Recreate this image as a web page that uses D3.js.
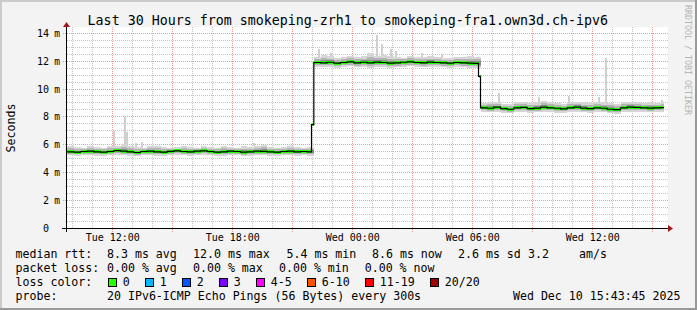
<!DOCTYPE html>
<html>
<head>
<meta charset="utf-8">
<script src="https://cdn.jsdelivr.net/npm/d3@7"></script>
<style>
  html, body { margin: 0; padding: 0; background: #f3f3f3; }
  svg { display: block; font-family: "DejaVu Sans Mono", monospace; }
</style>
</head>
<body>
<svg id="chart" width="697" height="310"></svg>
<script>
// ---- data ----
const title = "Last 30 Hours from smokeping-zrh1 to smokeping-fra1.own3d.ch-ipv6";
const graphStart = "2025-12-09T09:43:45";
const graphEnd = "2025-12-10T15:43:45";
const firstSample = "2025-12-09T09:45:00";
const sampleMinutes = 20;
const lastSampleEnd = "2025-12-10T15:35:00";

// median rtt in ms, one value per 20 min sample
const medianRtt = [
  // zrh1 -> fra1, ~5.5 ms
  5.50, 5.48, 5.52, 5.55, 5.50, 5.47, 5.52, 5.58, 5.55, 5.50,
  5.45, 5.52, 5.55, 5.50, 5.48, 5.53, 5.56, 5.52, 5.50, 5.55,
  5.57, 5.52, 5.48, 5.50, 5.54, 5.52, 5.47, 5.50, 5.55, 5.53,
  5.50, 5.48, 5.52, 5.55, 5.50, 5.52, 5.50,
  // ~11.9 ms during the night
  11.90, 11.88, 11.92, 11.85, 11.90, 11.95, 11.88, 11.92, 11.87, 11.93,
  11.90, 11.85, 11.88, 11.92, 11.95, 11.90, 11.88, 11.93, 11.90, 11.87,
  11.85, 11.90, 11.88, 11.86, 11.84,
  // ~8.65 ms since 06:20
  8.65, 8.62, 8.70, 8.60, 8.55, 8.65, 8.68, 8.60, 8.63, 8.70,
  8.65, 8.62, 8.58, 8.65, 8.70, 8.63, 8.60, 8.65, 8.62, 8.55,
  8.52, 8.65, 8.70, 8.68, 8.65, 8.63, 8.65, 8.66
];
const smokeHigh = [
  5.95, 5.85, 5.80, 5.90, 5.85, 5.80, 5.88, 5.95, 6.05, 5.90,
  5.85, 5.80, 5.90, 5.95, 5.85, 5.80, 5.85, 5.90, 5.85, 5.80,
  5.90, 5.85, 5.80, 5.95, 5.85, 5.80, 5.88, 5.85, 5.90, 6.00,
  5.85, 5.80, 5.85, 5.90, 5.85, 5.80, 5.85,
  12.30, 12.45, 12.35, 12.25, 12.30, 12.40, 12.30, 12.35, 12.55, 12.40,
  12.45, 12.35, 12.30, 12.25, 12.35, 12.30, 12.28, 12.35, 12.30, 12.25,
  12.22, 12.30, 12.28, 12.35, 12.30,
  9.00, 9.10, 9.05, 8.95, 8.95, 9.05, 9.10, 9.00, 9.05, 9.15,
  9.05, 9.00, 8.95, 9.05, 9.10, 9.05, 9.00, 9.10, 9.05, 9.00,
  8.95, 9.05, 9.10, 9.05, 9.00, 9.05, 9.00, 9.10
];
const smokeLow = [
  5.25, 5.22, 5.28, 5.25, 5.22, 5.20, 5.25, 5.28, 5.24, 5.22,
  5.18, 5.25, 5.26, 5.22, 5.20, 5.25, 5.28, 5.25, 5.22, 5.26,
  5.28, 5.24, 5.20, 5.22, 5.25, 5.24, 5.18, 5.22, 5.26, 5.25,
  5.22, 5.20, 5.24, 5.26, 5.22, 5.24, 5.22,
  11.55, 11.58, 11.60, 11.52, 11.58, 11.62, 11.55, 11.60, 11.54, 11.60,
  11.58, 11.52, 11.55, 11.60, 11.62, 11.58, 11.55, 11.60, 11.58, 11.55,
  11.52, 11.58, 11.55, 11.54, 11.50,
  8.35, 8.32, 8.38, 8.30, 8.25, 8.35, 8.38, 8.30, 8.32, 8.38,
  8.35, 8.30, 8.28, 8.35, 8.38, 8.32, 8.30, 8.35, 8.32, 8.25,
  8.22, 8.35, 8.38, 8.36, 8.35, 8.32, 8.35, 8.36
];

// short samples caught in the middle of a route change
const jumpTimes = ["2025-12-09T21:58:00", "2025-12-10T06:19:00"];
const jumpValues = [7.45, 10.9];

// single pings far above the smoke
const spikeTimes = [
  "2025-12-09T12:05:00", "2025-12-09T12:38:00", "2025-12-09T12:45:00", "2025-12-09T13:10:00",
  "2025-12-09T13:30:00", "2025-12-09T19:05:00",
  "2025-12-09T22:20:00", "2025-12-09T22:55:00", "2025-12-10T01:15:00", "2025-12-10T01:30:00",
  "2025-12-10T01:55:00", "2025-12-10T02:10:00", "2025-12-10T03:30:00", "2025-12-10T04:30:00",
  "2025-12-10T07:20:00", "2025-12-10T09:20:00", "2025-12-10T10:50:00", "2025-12-10T12:20:00",
  "2025-12-10T12:40:00", "2025-12-10T15:30:00"
];
const spikeTops = [
  7.0, 8.05, 6.9, 6.1, 6.2, 6.1,
  12.9, 12.6, 13.9, 13.2, 12.9, 12.7, 12.6, 12.5,
  9.75, 9.4, 9.5, 9.4, 12.2, 9.2
];

const yTicks = [0, 2, 4, 6, 8, 10, 12, 14];

const rttStats = ["8.3 ms avg", "12.0 ms max", "5.4 ms min", "8.6 ms now", "2.6 ms sd", "3.2", "am/s"];
const lossStats = ["0.00 % avg", "0.00 % max", "0.00 % min", "0.00 % now"];
const lossLabels = ["0", "1", "2", "3", "4-5", "6-10", "11-19", "20/20"];
const lossColors = ["#26ff00", "#00b8ff", "#0059ff", "#7e00ff", "#ff00ff", "#ff5500", "#ff0000", "#a10000"];
const probeText = "20 IPv6-ICMP Echo Pings (56 Bytes) every 300s";

// ---- layout ----
const W = 697, H = 310;
const rttX = [107, 193, 286.5, 372, 458, 528, 579];
const lossX = [107, 193, 279, 364.7];
const boxX = [108.5, 145.5, 182.5, 219.5, 256.5, 307.5, 365.5, 430.5];
const rowY = [258.3, 272.3, 286.3, 300.3];

const parse = d3.timeParse("%Y-%m-%dT%H:%M:%S");
const t0 = parse(graphStart), t1 = parse(graphEnd);

const svg = d3.select("#chart");

const x = d3.scaleTime().domain([t0, t1]).range([66.75, 666.75]);
const y = d3.scaleLinear().domain([0, 14.41]).range([228.5, 27.5]);
const px = v => Math.round(v - 0.5) + 0.5;

// background + 3d frame
svg.append("rect").attr("width", W).attr("height", H).attr("fill", "#f3f3f3");
svg.append("rect").attr("x", 0).attr("y", 0).attr("width", W).attr("height", 2).attr("fill", "#cbcbcb");
svg.append("rect").attr("x", 0).attr("y", 0).attr("width", 2).attr("height", H).attr("fill", "#cbcbcb");
svg.append("rect").attr("x", 0).attr("y", H - 2).attr("width", W).attr("height", 2).attr("fill", "#999");
svg.append("rect").attr("x", W - 2).attr("y", 0).attr("width", 2).attr("height", H).attr("fill", "#999");

// canvas
svg.append("rect").attr("x", 66.5).attr("y", 27).attr("width", 601.5).attr("height", 202).attr("fill", "#fff");

// grid
const grid = svg.append("g");
const minorY = d3.range(0.5, 14.41, 0.5).filter(v => v % 2 !== 0);
grid.selectAll(".hmin").data(minorY).join("line")
  .attr("x1", 67).attr("x2", 668)
  .attr("y1", d => px(y(d))).attr("y2", d => px(y(d)))
  .attr("stroke", "#c4c4c4").attr("stroke-dasharray", "1,1");
const minorX = d3.timeHour.every(1).range(t0, t1).filter(d => d.getHours() % 3 !== 0);
grid.selectAll(".vmin").data(minorX).join("line")
  .attr("x1", d => px(x(d))).attr("x2", d => px(x(d)))
  .attr("y1", 27).attr("y2", 228)
  .attr("stroke", "#c4c4c4").attr("stroke-dasharray", "1,1");
grid.selectAll(".hmaj").data(yTicks.filter(v => v > 0)).join("line")
  .attr("x1", 63).attr("x2", 668)
  .attr("y1", d => px(y(d))).attr("y2", d => px(y(d)))
  .attr("stroke", "#f09a9a").attr("stroke-dasharray", "1,1");
const majorX = d3.timeHour.every(3).range(t0, t1);
grid.selectAll(".vmaj").data(majorX).join("line")
  .attr("x1", d => px(x(d))).attr("x2", d => px(x(d)))
  .attr("y1", 27).attr("y2", 232)
  .attr("stroke", "#f09a9a").attr("stroke-dasharray", "1,1");

// samples
const sampleStart = parse(firstSample);
const samples = medianRtt.map((v, i) => ({
  t: d3.timeMinute.offset(sampleStart, i * sampleMinutes),
  v, hi: smokeHigh[i], lo: smokeLow[i]
}));
samples.forEach((d, i) => {
  d.end = i < samples.length - 1 ? samples[i + 1].t : parse(lastSampleEnd);
});

// median points including the short transition samples
const pts = samples.map(d => ({ t: d.t, v: d.v }))
  .concat(jumpTimes.map((t, i) => ({ t: parse(t), v: jumpValues[i] })))
  .sort((a, b) => a.t - b.t);
pts.forEach((d, i) => {
  d.end = i < pts.length - 1 ? pts[i + 1].t : parse(lastSampleEnd);
});

const plot = svg.append("g").attr("shape-rendering", "crispEdges");

// spikes
plot.selectAll(".spike").data(spikeTimes).join("rect")
  .attr("x", d => x(parse(d)) - 1)
  .attr("width", 2)
  .attr("y", (d, i) => y(spikeTops[i]))
  .attr("height", (d, i) => {
    const s = samples.find(p => p.t <= parse(d) && p.end > parse(d)) || samples[samples.length - 1];
    return Math.max(0, y(s.hi) - y(spikeTops[i]));
  })
  .attr("fill", "#cfcfcf");

// smoke, light to dark
const bands = [
  { k: 1.0, c: "#d6d6d6" },
  { k: 0.6, c: "#b4b4b4" },
  { k: 0.3, c: "#8a8a8a" }
];
bands.forEach(b => {
  plot.append("g").selectAll("rect").data(samples).join("rect")
    .attr("x", d => x(d.t))
    .attr("width", d => x(d.end) - x(d.t) + 0.3)
    .attr("y", d => y(d.v + (d.hi - d.v) * b.k))
    .attr("height", d => y(d.v - (d.v - d.lo) * b.k) - y(d.v + (d.hi - d.v) * b.k))
    .attr("fill", b.c);
});

// median line
const medLine = d3.line().x(d => x(d.t)).y(d => y(d.v)).curve(d3.curveStepAfter);
svg.append("path")
  .datum(pts.concat([{ t: parse(lastSampleEnd), v: pts[pts.length - 1].v }]))
  .attr("d", medLine)
  .attr("fill", "none").attr("stroke", "#000").attr("stroke-width", 1.2);

// loss coloured median band (all samples 0 loss)
plot.append("g").selectAll("rect").data(pts).join("rect")
  .attr("x", d => x(d.t))
  .attr("width", d => x(d.end) - x(d.t) + 0.3)
  .attr("y", d => y(d.v) - 1.5)
  .attr("height", 3)
  .attr("fill", lossColors[0]);

// axes
const axis = svg.append("g");
axis.append("line").attr("x1", 62).attr("x2", 669).attr("y1", 228.5).attr("y2", 228.5)
  .attr("stroke", "#000");
axis.append("line").attr("x1", 66.5).attr("x2", 66.5).attr("y1", 232).attr("y2", 26)
  .attr("stroke", "#000");
axis.append("path").attr("d", "M668,225 L673,228.5 L668,232 Z").attr("fill", "#a01818");
axis.append("path").attr("d", "M63,27 L66.5,22 L70,27 Z").attr("fill", "#a01818");

// y labels
const yl = svg.append("g").attr("font-size", 10).attr("fill", "#000");
yl.selectAll(".num").data(yTicks).join("text")
  .attr("x", 49).attr("y", d => px(y(d)) + 3.6)
  .attr("text-anchor", "end")
  .text(d => d);
yl.selectAll(".unit").data(yTicks.filter(v => v > 0)).join("text")
  .attr("x", 54.3).attr("y", d => px(y(d)) + 3.6)
  .attr("font-size", 9.6)
  .text("m");

// x labels
const fmt = d3.timeFormat("%a %H:%M");
svg.append("g").attr("font-size", 10).selectAll("text")
  .data(d3.timeHour.every(6).range(t0, t1)).join("text")
  .attr("x", d => px(x(d)) + 0.3).attr("y", 241.2)
  .attr("text-anchor", "middle")
  .text(d => fmt(d));

// title + side texts
svg.append("text").attr("x", 347.8).attr("y", 24.6).attr("text-anchor", "middle")
  .attr("font-size", 13.3).text(title);
svg.append("text").attr("transform", "translate(15,128) rotate(-90)")
  .attr("text-anchor", "middle").attr("font-size", 11.6).text("Seconds");
svg.append("text").attr("transform", "translate(684.5,5) rotate(90)")
  .attr("font-size", 8.3).attr("fill", "#b4b4b4").text("RRDTOOL / TOBI OETIKER");

// legend
const lg = svg.append("g").attr("font-size", 11.6).attr("fill", "#000")
  .style("white-space", "pre");
lg.append("text").attr("x", 15.5).attr("y", rowY[0]).text("median rtt:");
lg.selectAll(".rtt").data(rttStats).join("text")
  .attr("x", (d, i) => rttX[i]).attr("y", rowY[0]).text(d => d);
lg.append("text").attr("x", 15.5).attr("y", rowY[1]).text("packet loss:");
lg.selectAll(".loss").data(lossStats).join("text")
  .attr("x", (d, i) => lossX[i]).attr("y", rowY[1]).text(d => d);
lg.append("text").attr("x", 15.5).attr("y", rowY[2]).text("loss color:");
lg.selectAll(".box").data(lossColors).join("rect")
  .attr("x", (d, i) => boxX[i]).attr("y", 278.5)
  .attr("width", 8).attr("height", 8)
  .attr("fill", d => d).attr("stroke", "#000");
lg.selectAll(".lbl").data(lossLabels).join("text")
  .attr("x", (d, i) => boxX[i] + 14.3).attr("y", rowY[2]).text(d => d);
lg.append("text").attr("x", 15.5).attr("y", rowY[3]).text("probe:");
lg.append("text").attr("x", 107).attr("y", rowY[3]).text(probeText);
lg.append("text").attr("x", 680.5).attr("y", rowY[3]).attr("text-anchor", "end")
  .text(d3.timeFormat("%a %b %d %H:%M:%S %Y")(t1));
</script>
</body>
</html>
